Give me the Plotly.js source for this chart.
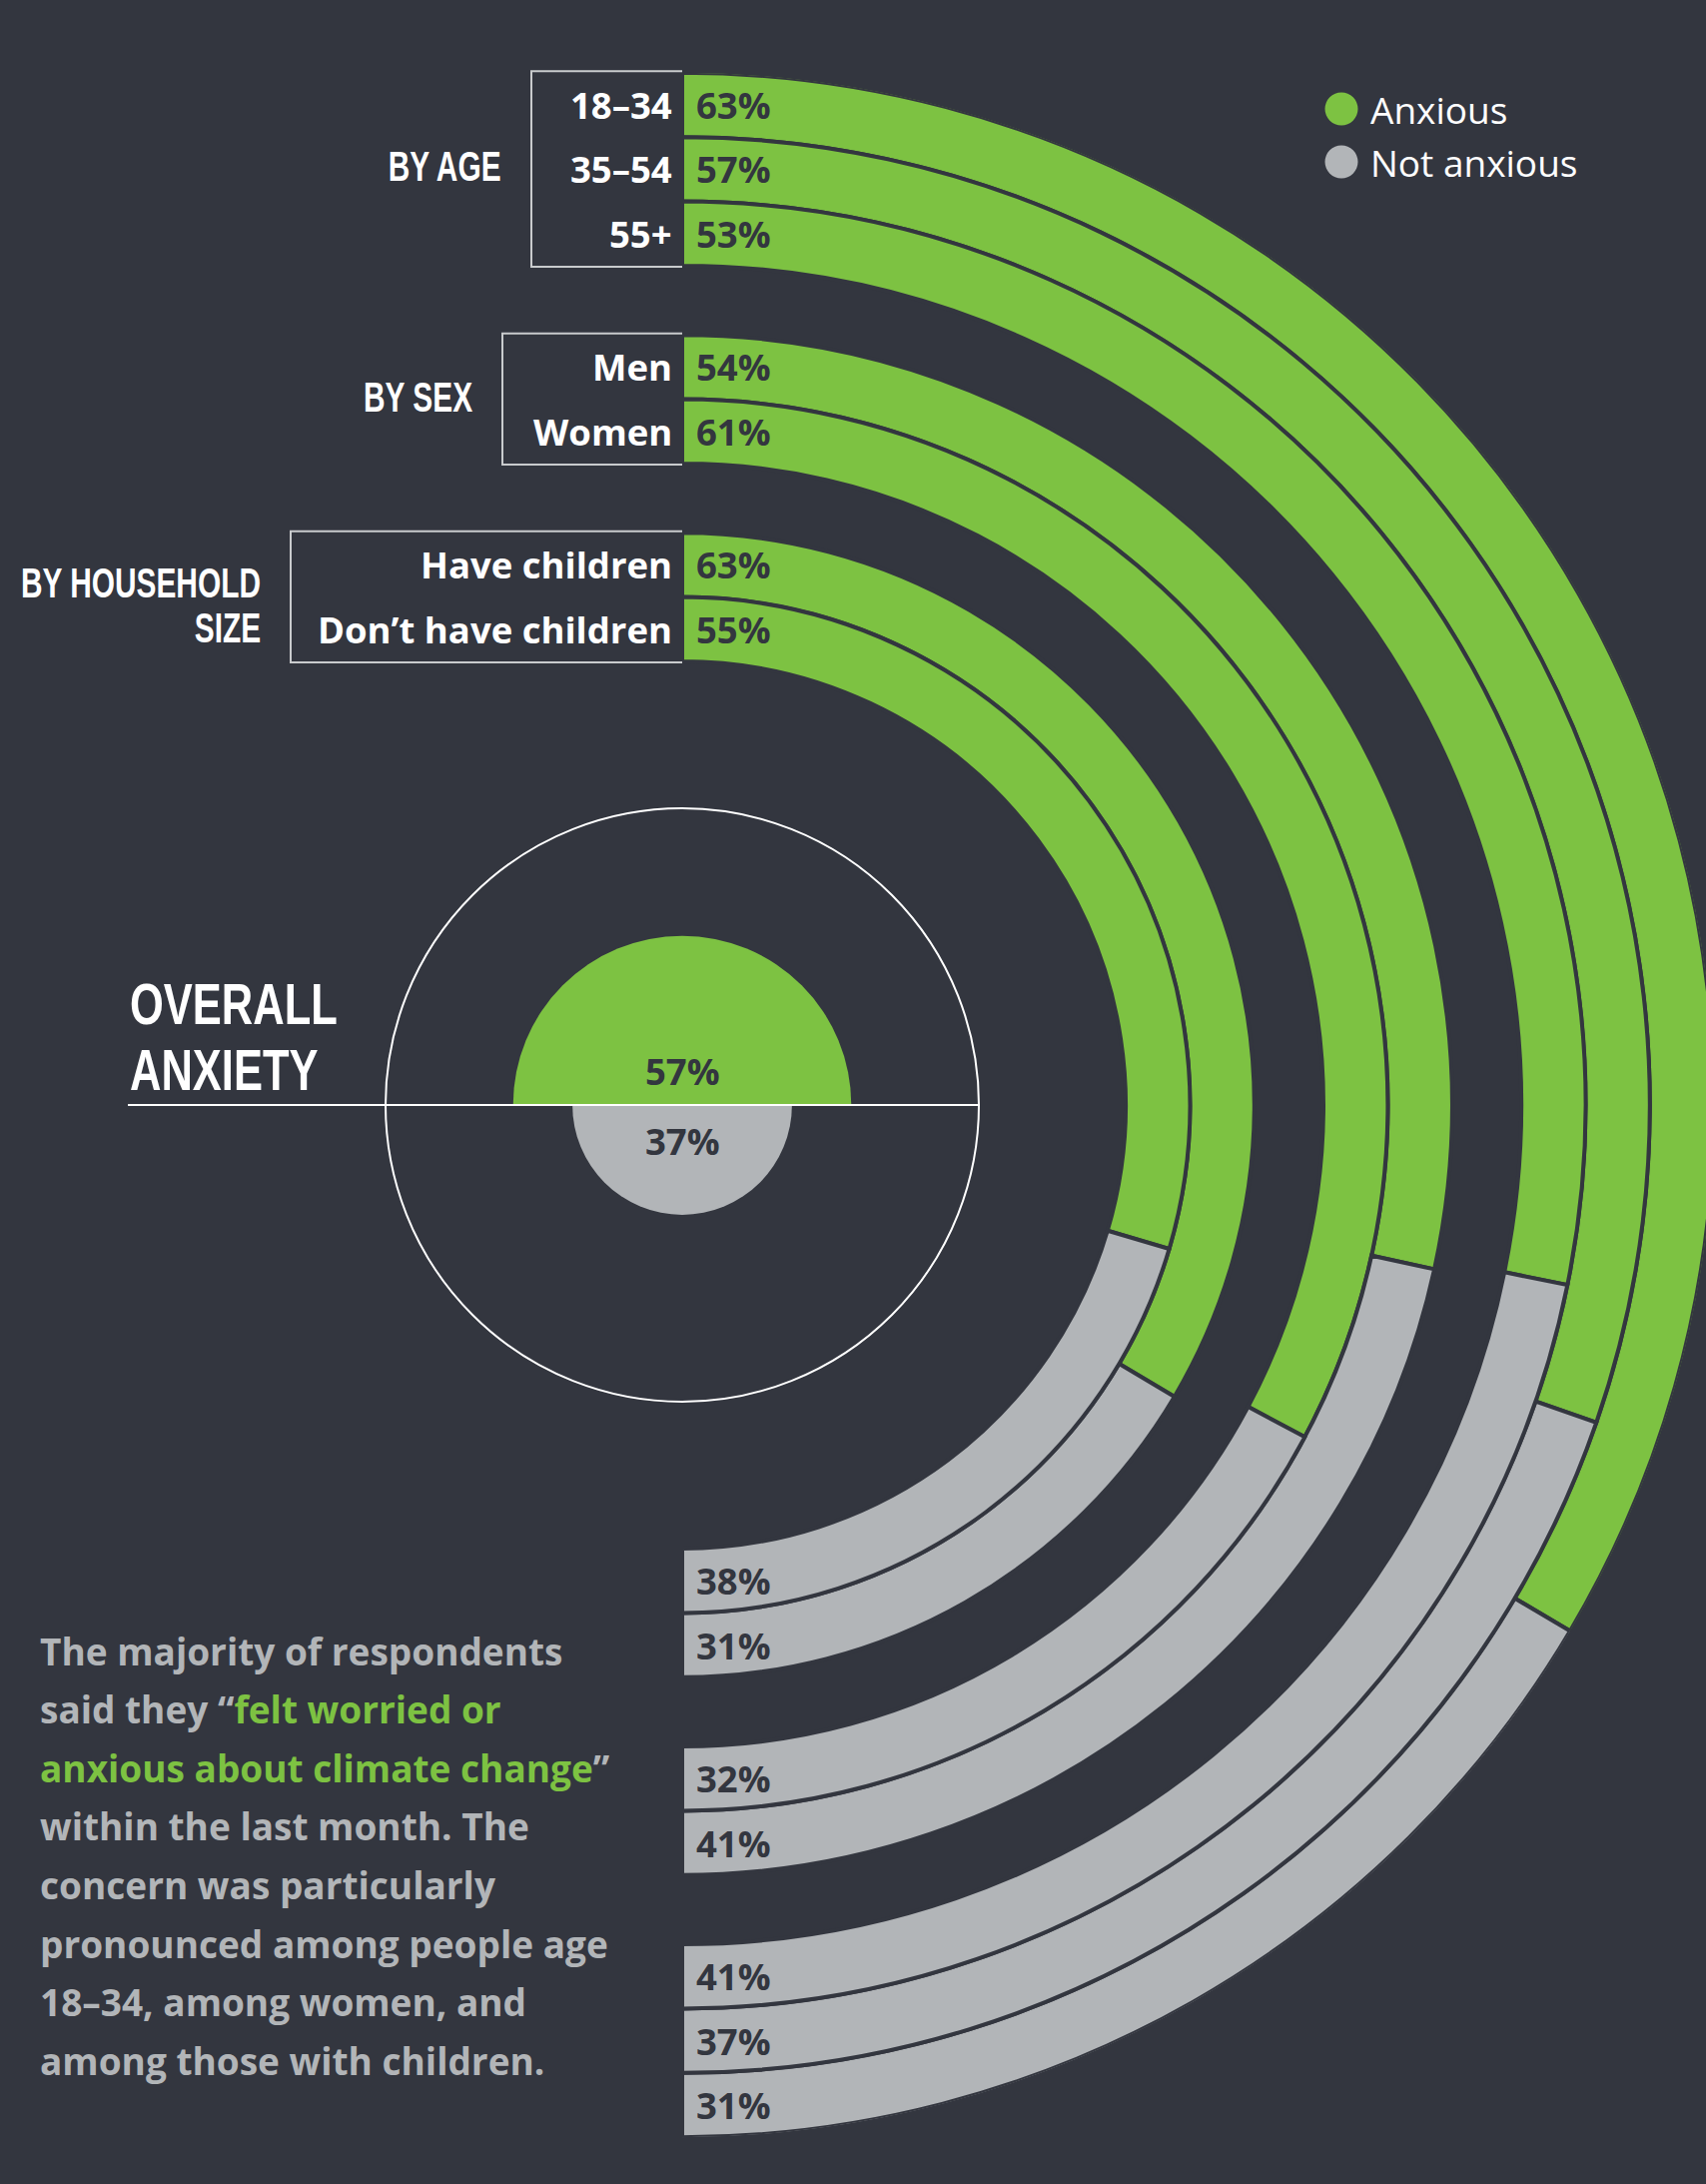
<!DOCTYPE html>
<html>
<head>
<meta charset="utf-8">
<script src="https://cdn.plot.ly/plotly-3.0.1.min.js"></script>
<style>
html,body{margin:0;padding:0;background:#33363f;overflow:hidden;}
#chart{width:1720px;height:2186px;}
</style>
</head>
<body>
<div id="chart"></div>
<script>
// ---------------- data ----------------
const groupTitles = [['BY AGE'], ['BY SEX'], ['BY HOUSEHOLD', 'SIZE']];
const categories = ['18–34', '35–54', '55+', 'Men', 'Women', 'Have children', 'Don’t have children'];
const categoryGroup = [0, 0, 0, 1, 1, 2, 2];
const anxious = [63, 57, 53, 54, 61, 63, 55];
const notAnxious = [31, 37, 41, 41, 32, 31, 38];
const overallAnxious = 57;
const overallNotAnxious = 37;
const overallTitle = ['OVERALL', 'ANXIETY'];
const legendLabels = ['Anxious', 'Not anxious'];
const paragraph = [
  'The majority of respondents',
  'said they “<span style="color:#7dc242">felt worried or</span>',
  '<span style="color:#7dc242">anxious about climate change</span>”',
  'within the last month. The',
  'concern was particularly',
  'pronounced among people age',
  '18–34, among women, and',
  'among those with children.'
];

// ---------------- layout constants ----------------
const W = 1720, H = 2186;
const CX = 683, CY = 1106;
const R0 = 444, PITCH = 64.4, GAP = 4.8;
const BG = '#33363f', GREEN = '#7dc242', GREY = '#b2b5b8', BOXC = '#c9cbcd', DARK = '#33363f';
const CIRCLE_R = 297;
const boxLeft = [532, 503, 291];
const titleY = [166, 397, 583];
const TITLE_LINE = 44.7;
const LABEL_FONT = 'Open Sans, sans-serif';
const COND_FONT = 'Liberation Sans, Arial, sans-serif';

const px = x => x / W;
const py = y => 1 - y / H;

// ring geometry (radial units == pixels)
const n = categories.length;
const maxGroup = Math.max(...categoryGroup);
const ringInner = new Array(n);
let slot = 0;
for (let i = n - 1; i >= 0; i--) {
  if (i < n - 1 && categoryGroup[i] !== categoryGroup[i + 1]) slot += 1;
  ringInner[i] = R0 + slot * PITCH + (maxGroup - categoryGroup[i]) * GAP;
  slot += 1;
}
const RMAX = ringInner[0] + PITCH;

const share = anxious.map((a, i) => a / (a + notAnxious[i]));

const traces = [
  {
    type: 'barpolar', subplot: 'polar',
    r: categories.map(() => PITCH), base: ringInner,
    theta: share.map(s => 90 * s), width: share.map(s => 180 * s),
    marker: {color: GREEN, line: {color: BG, width: 4}},
    hoverinfo: 'skip', showlegend: false
  },
  {
    type: 'barpolar', subplot: 'polar',
    r: categories.map(() => PITCH), base: ringInner,
    theta: share.map(s => 180 * s + 90 * (1 - s)), width: share.map(s => 180 * (1 - s)),
    marker: {color: GREY, line: {color: BG, width: 4}},
    hoverinfo: 'skip', showlegend: false
  },
  {
    type: 'barpolar', subplot: 'polar2',
    r: [overallAnxious, overallNotAnxious], theta: [0, 180], width: [180, 180],
    marker: {color: [GREEN, GREY], line: {width: 0}},
    hoverinfo: 'skip', showlegend: false
  }
];

const annotations = [];
const condensed = []; // [annotation index, transform origin, scale]
function ann(text, x, y, o) {
  annotations.push(Object.assign({
    text: text, x: px(x), y: py(y), xref: 'paper', yref: 'paper',
    showarrow: false, xanchor: 'left', yanchor: 'middle'
  }, o));
  return annotations.length - 1;
}
const labelFont = {family: LABEL_FONT, size: 36.5, color: '#ffffff', weight: 700};
const pctFont = {family: LABEL_FONT, size: 36.5, color: DARK, weight: 700};
const condFont = {family: COND_FONT, size: 43.3, color: '#ffffff', weight: 700};

const shapes = [];
for (let i = 0; i < n; i++) {
  const mid = ringInner[i] + PITCH / 2;
  ann(categories[i], 675, CY - mid, {xanchor: 'right', font: labelFont});
  ann(anxious[i] + '%', 695, CY - mid, {font: pctFont});
  ann(notAnxious[i] + '%', 695, CY + mid, {font: pctFont});
}
// group boxes and titles
for (let g = 0; g <= maxGroup; g++) {
  const idx = categoryGroup.map((v, i) => v === g ? i : -1).filter(i => i >= 0);
  const outer = Math.max(...idx.map(i => ringInner[i] + PITCH));
  const inner = Math.min(...idx.map(i => ringInner[i]));
  const yTop = CY - outer - 1.5, yBot = CY - inner + 1;
  shapes.push({
    type: 'path', xref: 'paper', yref: 'paper',
    path: `M ${px(CX)} ${py(yTop)} L ${px(boxLeft[g])} ${py(yTop)} L ${px(boxLeft[g])} ${py(yBot)} L ${px(CX)} ${py(yBot)}`,
    line: {color: BOXC, width: 2}
  });
  groupTitles[g].forEach((t, k) => {
    const a = ann(t, boxLeft[g] - 28, titleY[g] + k * TITLE_LINE, {xanchor: 'right', font: condFont});
    condensed.push([a, 'right center', 0.69]);
  });
}

// overall
const bigCond = {family: COND_FONT, size: 58, color: '#ffffff', weight: 700};
condensed.push([ann(overallTitle[0], 128, 1004, {font: bigCond}), 'left center', 0.75]);
condensed.push([ann(overallTitle[1], 128, 1070, {font: bigCond}), 'left center', 0.75]);
ann(overallAnxious + '%', CX, CY - 34, {xanchor: 'center', font: pctFont});
ann(overallNotAnxious + '%', CX, CY + 36, {xanchor: 'center', font: pctFont});
shapes.push({type: 'line', xref: 'paper', yref: 'paper', x0: px(128), x1: px(CX + CIRCLE_R), y0: py(CY), y1: py(CY),
  line: {color: '#ffffff', width: 2}});

// legend
const legendColors = [GREEN, GREY];
legendLabels.forEach((t, k) => {
  const yc = 109 + k * 53;
  shapes.push({type: 'circle', xref: 'paper', yref: 'paper',
    x0: px(1343 - 16.5), x1: px(1343 + 16.5), y0: py(yc + 16.5), y1: py(yc - 16.5),
    fillcolor: legendColors[k], line: {width: 0}});
  ann(t, 1370, yc, {font: {family: LABEL_FONT, size: 37, color: '#ffffff', weight: 400}});
});

// paragraph
paragraph.forEach((t, k) => {
  ann(t, 38, 1652 + k * 58.6, {font: {family: LABEL_FONT, size: 37, color: GREY, weight: 700}});
});

const layout = {
  width: W, height: H,
  margin: {l: 0, r: 0, t: 0, b: 0, pad: 0},
  paper_bgcolor: BG, plot_bgcolor: BG,
  showlegend: false,
  polar: {
    domain: {x: [px(CX), px(CX + RMAX)], y: [py(CY + RMAX), py(CY - RMAX)]},
    sector: [-90, 90],
    bgcolor: 'rgba(0,0,0,0)',
    barmode: 'overlay',
    radialaxis: {visible: false, range: [0, RMAX], showgrid: false},
    angularaxis: {visible: false, rotation: 90, direction: 'clockwise', showgrid: false}
  },
  polar2: {
    domain: {x: [px(CX - CIRCLE_R), px(CX + CIRCLE_R)], y: [py(CY + CIRCLE_R), py(CY - CIRCLE_R)]},
    bgcolor: 'rgba(0,0,0,0)',
    barmode: 'overlay',
    radialaxis: {visible: false, range: [0, 100], showgrid: false},
    angularaxis: {rotation: 90, direction: 'clockwise', showgrid: false, showticklabels: false,
      ticks: '', showline: true, linecolor: '#ffffff', linewidth: 2}
  },
  shapes: shapes,
  annotations: annotations
};

function condense(gd) {
  condensed.forEach(([i, origin, k]) => {
    const t = gd.querySelector('g.annotation[data-index="' + i + '"] text.annotation-text');
    if (t) {
      t.style.transformBox = 'fill-box';
      t.style.transformOrigin = origin;
      t.style.transform = 'scaleX(' + k + ')';
    }
  });
}

Plotly.newPlot('chart', traces, layout, {displayModeBar: false, staticPlot: true}).then(condense);
</script>
</body>
</html>
